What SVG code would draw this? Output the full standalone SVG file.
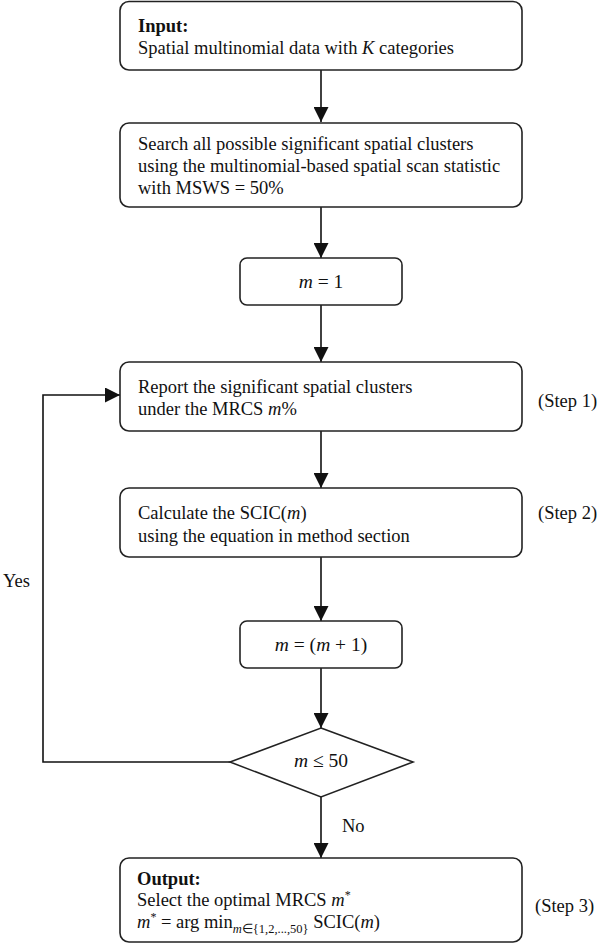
<svg xmlns="http://www.w3.org/2000/svg" width="597" height="945" viewBox="0 0 597 945">
<defs>
<marker id="arr" markerWidth="15" markerHeight="15" refX="15" refY="7.5" orient="auto" markerUnits="userSpaceOnUse">
<path d="M0,0 L15,7.5 L0,15 z" fill="#111"/>
</marker>
<style>
.box{fill:#fff;stroke:#222;stroke-width:1.6}
.t{font-family:"Liberation Serif","Times New Roman",serif;font-size:18.5px;fill:#111}
.m{font-size:19.5px}
.b{font-weight:bold}
.i{font-style:italic}
.c{text-anchor:middle}
.ln{fill:none;stroke:#111;stroke-width:1.6}
</style>
</defs>
<rect width="597" height="945" fill="#fff"/>
<g id="connectors">
<line class="ln" x1="321" y1="70" x2="321" y2="122" marker-end="url(#arr)"/>
<line class="ln" x1="321" y1="207" x2="321" y2="258" marker-end="url(#arr)"/>
<line class="ln" x1="321" y1="305" x2="321" y2="362" marker-end="url(#arr)"/>
<line class="ln" x1="321" y1="431" x2="321" y2="488" marker-end="url(#arr)"/>
<line class="ln" x1="321" y1="557" x2="321" y2="621" marker-end="url(#arr)"/>
<line class="ln" x1="321" y1="668" x2="321" y2="728" marker-end="url(#arr)"/>
<line class="ln" x1="321" y1="797" x2="321" y2="858" marker-end="url(#arr)"/>
<polyline class="ln" points="230,762 43,762 43,395 120,395" marker-end="url(#arr)"/>
<text class="t" x="3" y="587">Yes</text>
<text class="t" x="342" y="832">No</text>
</g>
<g id="input">
<rect class="box" x="120" y="1.5" width="402" height="68.5" rx="9"/>
<text class="t b" x="138" y="32">Input:</text>
<text class="t" x="138" y="54">Spatial multinomial data with <tspan class="i">K</tspan> categories</text>
</g>
<g id="search">
<rect class="box" x="120" y="123" width="402" height="84" rx="9"/>
<text class="t" x="138" y="150">Search all possible significant spatial clusters</text>
<text class="t" x="138" y="172">using the multinomial-based spatial scan statistic</text>
<text class="t" x="138" y="194">with MSWS = 50%</text>
</g>
<g id="m1">
<rect class="box" x="240" y="258" width="162" height="47" rx="7"/>
<text class="t m c" x="321" y="288"><tspan class="i">m</tspan> = 1</text>
</g>
<g id="step1">
<rect class="box" x="120" y="362" width="402" height="69" rx="9"/>
<text class="t" x="138" y="393">Report the significant spatial clusters</text>
<text class="t" x="138" y="415">under the MRCS <tspan class="i">m</tspan>%</text>
<text class="t" x="538" y="407">(Step 1)</text>
</g>
<g id="step2">
<rect class="box" x="120" y="488" width="402" height="69" rx="9"/>
<text class="t" x="138" y="519">Calculate the SCIC(<tspan class="i">m</tspan>)</text>
<text class="t" x="138" y="542">using the equation in method section</text>
<text class="t" x="538" y="519">(Step 2)</text>
</g>
<g id="increment">
<rect class="box" x="240" y="621" width="162" height="47" rx="7"/>
<text class="t m c" x="321" y="651"><tspan class="i">m</tspan> = (<tspan class="i">m</tspan> + 1)</text>
</g>
<g id="decision">
<polygon class="box" points="321,728 413,762 321,797 230,762"/>
<text class="t m c" x="321" y="767"><tspan class="i">m</tspan> ≤ 50</text>
</g>
<g id="output">
<rect class="box" x="120" y="858" width="402" height="84" rx="9"/>
<text class="t b" x="137" y="885">Output:</text>
<text class="t" x="137" y="906">Select the optimal MRCS <tspan class="i">m</tspan><tspan font-size="12" dy="-7">*</tspan></text>
<text class="t" x="137" y="928"><tspan class="i">m</tspan><tspan font-size="12" dy="-7">*</tspan><tspan dy="7"> = arg min</tspan><tspan font-size="12.5" dy="5"><tspan class="i">m</tspan>∈{1,2,...,50}</tspan><tspan dy="-5"> SCIC(</tspan><tspan class="i">m</tspan>)</text>
<text class="t" x="535" y="912">(Step 3)</text>
</g>
</svg>
